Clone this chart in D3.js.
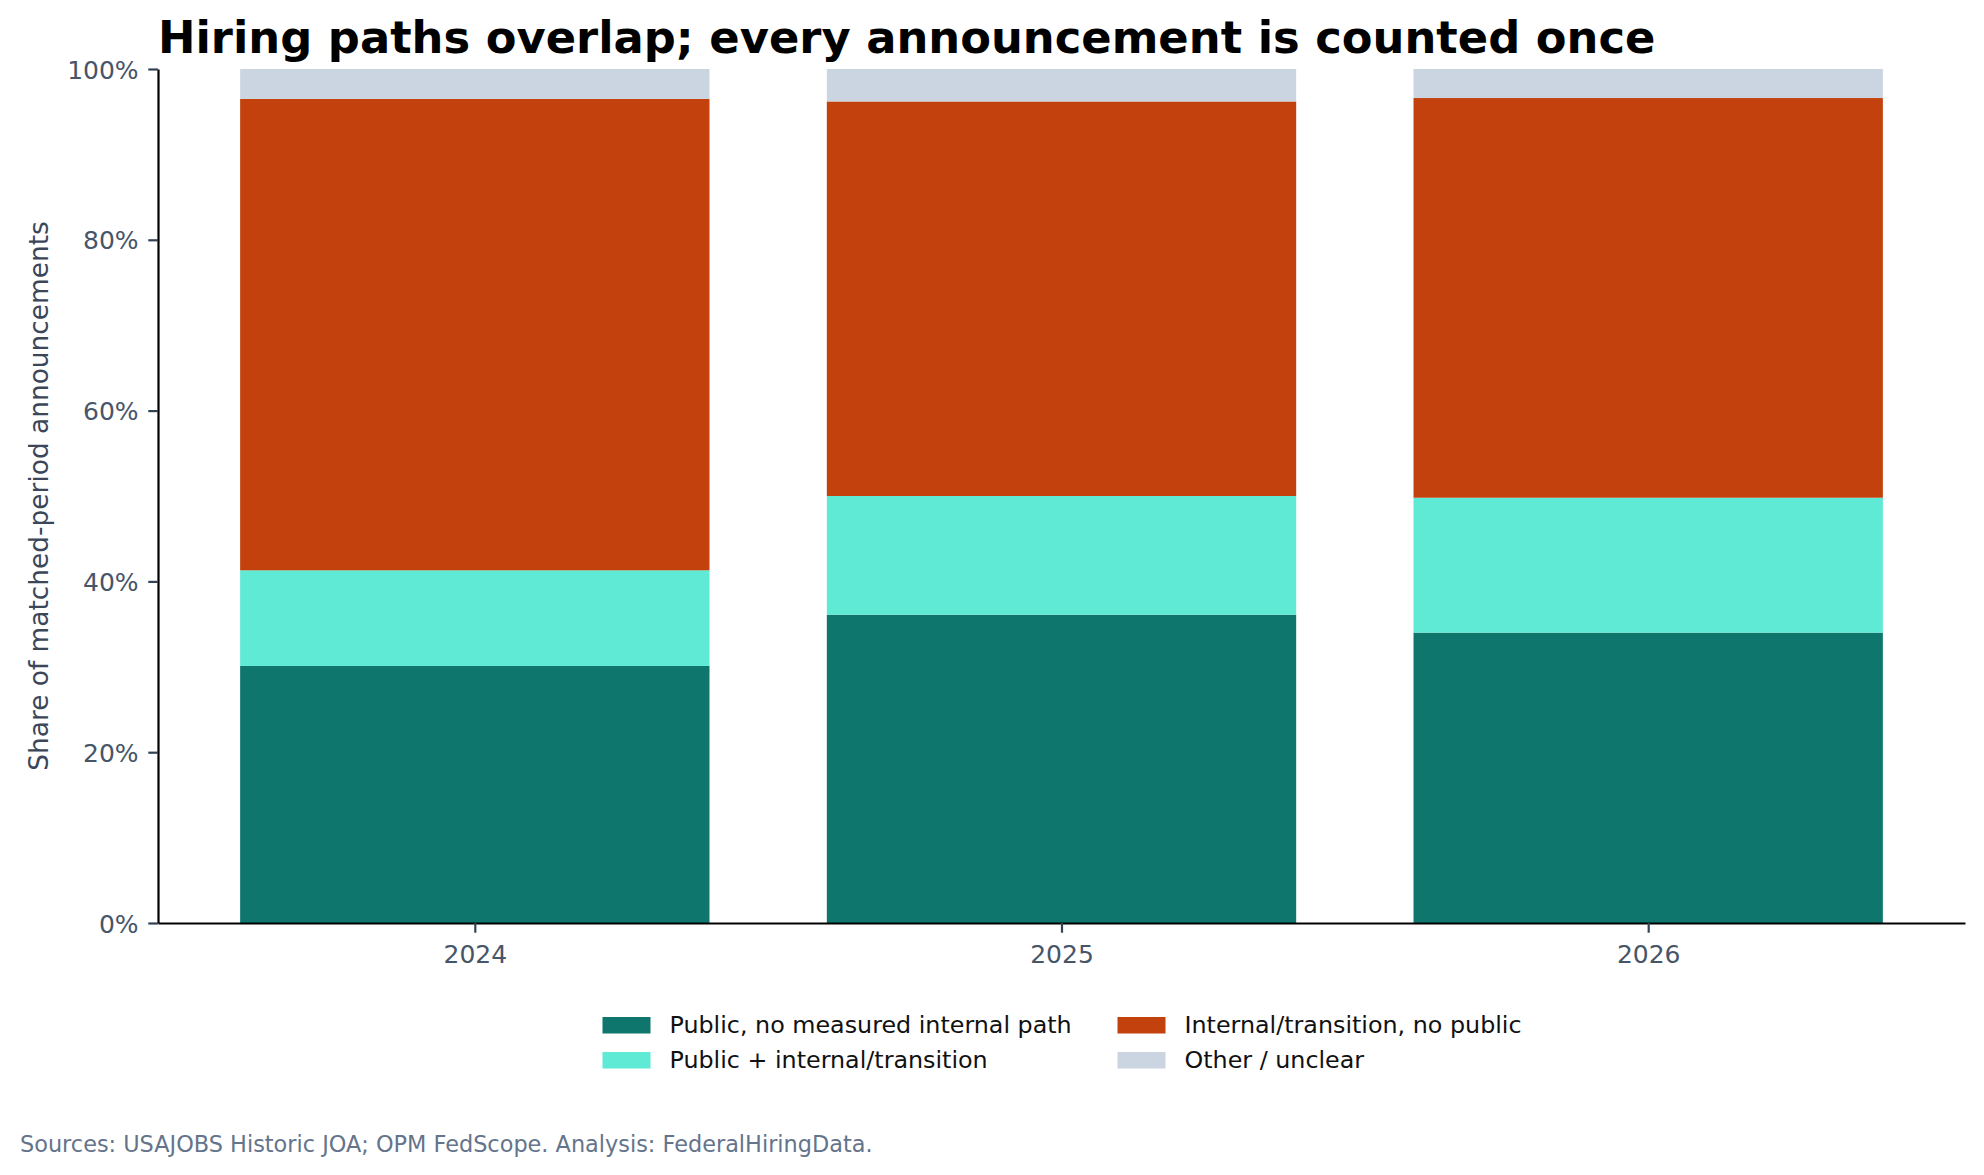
<!DOCTYPE html>
<html>
<head>
<meta charset="utf-8">
<script src="https://cdn.jsdelivr.net/npm/d3@7"></script>
<style>
  html, body { margin: 0; padding: 0; background: #fff; }
  svg { display: block; font-family: "DejaVu Sans", sans-serif; }
</style>
</head>
<body>
<div id="chart"></div>
<script>
// categories + series (share of announcements, %)
const years = ["2024", "2025", "2026"];
const seriesNames = [
  "Public, no measured internal path",
  "Public + internal/transition",
  "Internal/transition, no public",
  "Other / unclear"
];
const publicOnly     = [30.1, 36.1, 34.0];
const publicInternal = [11.2, 13.9, 15.8];
const internalOnly   = [55.2, 46.2, 46.8];
const otherUnclear   = [3.5, 3.8, 3.4];
const yTicks = [0, 20, 40, 60, 80, 100];

const colors = ["#0f766e", "#5eead4", "#c2410c", "#cbd5e1"];

const W = 1984, H = 1175;
const plot = { left: 158, right: 1965, top: 69, bottom: 923 };

// build rows for d3.stack
const keys = ["a", "b", "c", "d"];
const rows = years.map((y, i) => ({
  idx: i, year: y,
  a: publicOnly[i], b: publicInternal[i], c: internalOnly[i], d: otherUnclear[i]
}));
const stacked = d3.stack().keys(keys)(rows);

const svg = d3.select("#chart").append("svg")
  .attr("width", W).attr("height", H);

// matplotlib-like x limits: bars -0.4..2.4 plus 5% margin
const x = d3.scaleLinear().domain([-0.54, 2.54]).range([plot.left, plot.right]);
const y = d3.scaleLinear().domain([0, 100]).range([plot.bottom, plot.top]);
const barW = 0.8;

// bars
svg.append("g").selectAll("g")
  .data(stacked)
  .join("g")
    .attr("fill", (d, i) => colors[i])
  .selectAll("rect")
  .data(d => d)
  .join("rect")
    .attr("x", d => x(d.data.idx - barW / 2))
    .attr("width", d => x(d.data.idx + barW / 2) - x(d.data.idx - barW / 2))
    .attr("y", d => y(d[1]))
    .attr("height", d => y(d[0]) - y(d[1]));

// y axis
const yAxis = svg.append("g")
  .attr("transform", `translate(${plot.left},0)`)
  .call(d3.axisLeft(y).tickValues(yTicks).tickFormat(d => d + "%")
    .tickSize(9.7).tickPadding(9.7).tickSizeOuter(0));
yAxis.select(".domain").attr("stroke", "#000").attr("stroke-width", 2.2);
yAxis.selectAll(".tick line").attr("stroke", "#334155").attr("stroke-width", 2.2);
yAxis.selectAll(".tick text")
  .attr("fill", "#475569").attr("font-size", 25).attr("dy", "0.36em")
  .attr("font-family", "DejaVu Sans");

// x axis
const xAxis = svg.append("g")
  .attr("transform", `translate(0,${plot.bottom})`)
  .call(d3.axisBottom(x).tickValues(years.map((d, i) => i)).tickFormat(i => years[i])
    .tickSize(9.7).tickPadding(9.7).tickSizeOuter(0));
xAxis.select(".domain").attr("stroke", "#000").attr("stroke-width", 2.2);
xAxis.selectAll(".tick line").attr("stroke", "#334155").attr("stroke-width", 2.2);
xAxis.selectAll(".tick text")
  .attr("fill", "#475569").attr("font-size", 25).attr("dy", 20.6)
  .attr("font-family", "DejaVu Sans");

// y label
svg.append("text")
  .attr("transform", `translate(48,${(plot.top + plot.bottom) / 2}) rotate(-90)`)
  .attr("text-anchor", "middle")
  .attr("font-size", 26.4)
  .attr("fill", "#3b4658")
  .text("Share of matched-period announcements");

// title
svg.append("text")
  .attr("x", plot.left).attr("y", 53)
  .attr("font-size", 44.8).attr("font-weight", "bold")
  .attr("fill", "#000")
  .text("Hiring paths overlap; every announcement is counted once");

// legend (2 columns, filled column-wise like matplotlib ncol=2)
const legendCols = [602.5, 1117.5];
const legendRows = [1017, 1052];
const legend = svg.append("g").selectAll("g")
  .data(seriesNames)
  .join("g")
    .attr("transform", (d, i) => `translate(${legendCols[Math.floor(i / 2)]},${legendRows[i % 2]})`);
legend.append("rect")
  .attr("width", 48).attr("height", 16.5)
  .attr("fill", (d, i) => colors[i]);
legend.append("text")
  .attr("x", 67).attr("y", 16)
  .attr("font-size", 23.8).attr("fill", "#111")
  .text(d => d);

// source note
svg.append("text")
  .attr("x", 20).attr("y", 1152)
  .attr("font-size", 22.4).attr("fill", "#64748b")
  .text("Sources: USAJOBS Historic JOA; OPM FedScope. Analysis: FederalHiringData.");
</script>
</body>
</html>
